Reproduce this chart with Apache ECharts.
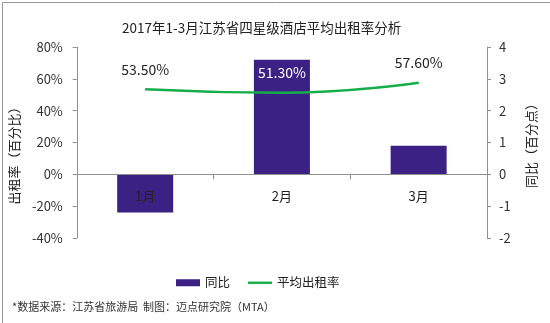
<!DOCTYPE html>
<html>
<head>
<meta charset="utf-8">
<script src="https://cdn.jsdelivr.net/npm/echarts@6/dist/echarts.min.js"></script>
<style>html,body{margin:0;padding:0;background:#fff}#c{width:550px;height:323px}</style>
</head>
<body>
<div id="c"></div>
<script>
const categories = ['1月', '2月', '3月'];
const yoyValues = [-1.2, 3.6, 0.9];          // 同比（百分点）
const occupancyValues = [53.5, 51.3, 57.6];  // 平均出租率（%）
const leftTicks = { min: -40, max: 80, interval: 20 };
const rightTicks = { min: -2, max: 4, interval: 1 };

const FONT = '"Noto Sans CJK SC", "Open Sans", sans-serif';
const GREEN = '#16AE4A';
const PURPLE = '#3B2184';
const AXIS_GRAY = '#8f8f8f';
const chart = echarts.init(document.getElementById('c'));
const axisCommon = {
  axisLine: { show: true, lineStyle: { color: AXIS_GRAY, width: 1 } },
  axisTick: { show: true, inside: false, length: 4, lineStyle: { color: AXIS_GRAY } },
  splitLine: { show: false }
};
const gridTop = 47, gridBottom = 85, plotH = 323 - gridTop - gridBottom;
const zeroOffset = -plotH * (0 - leftTicks.min) / (leftTicks.max - leftTicks.min);
chart.setOption({
  animation: false,
  textStyle: { fontFamily: FONT },
  title: {
    text: '2017年1-3月江苏省四星级酒店平均出租率分析',
    left: 117, top: 16,
    textStyle: { fontSize: 13.5, fontWeight: 'normal', color: '#222', fontFamily: FONT }
  },
  legend: {
    bottom: 29, left: 171, itemWidth: 24, itemHeight: 7, itemGap: 18,
    textStyle: { fontSize: 12.5, color: '#222', fontFamily: FONT },
    data: [
      { name: '同比', icon: 'rect', itemStyle: { color: PURPLE } },
      { name: '平均出租率', icon: 'path://M0,0H30V3H0Z', itemStyle: { color: GREEN } }
    ]
  },
  grid: { left: 67, right: 63, top: gridTop, bottom: gridBottom },
  xAxis: {
    type: 'category', data: categories, position: 'bottom', offset: zeroOffset, z: 5,
    axisLine: { onZero: false, lineStyle: { color: AXIS_GRAY } },
    axisTick: { show: true, length: 5, lineStyle: { color: AXIS_GRAY } },
    axisLabel: { margin: 15, fontSize: 13, color: '#222', fontFamily: FONT }
  },
  yAxis: [
    Object.assign({
      type: 'value', position: 'left', min: leftTicks.min, max: leftTicks.max, interval: leftTicks.interval,
      name: '出租率（百分比）', nameLocation: 'middle', nameGap: 50,
      nameTextStyle: { fontSize: 13, color: '#222', fontFamily: FONT, padding: [0, 0, 0, -20] },
      axisLabel: { formatter: '{value}%', margin: 14, fontSize: 13, color: '#333', fontFamily: FONT }
    }, axisCommon),
    Object.assign({
      type: 'value', position: 'right', min: rightTicks.min, max: rightTicks.max, interval: rightTicks.interval,
      name: '同比（百分点）', nameLocation: 'middle', nameGap: 38,
      nameTextStyle: { fontSize: 13, color: '#222', fontFamily: FONT },
      axisLabel: { margin: 12, fontSize: 13, color: '#333', fontFamily: FONT }
    }, axisCommon)
  ],
  series: [
    {
      name: '同比', type: 'bar', yAxisIndex: 1, barWidth: 56, z: 1,
      itemStyle: { color: PURPLE },
      data: yoyValues
    },
    {
      name: '平均出租率', type: 'line', yAxisIndex: 0, smooth: true,
      symbol: 'circle', symbolSize: 1, showSymbol: true, z: 3,
      lineStyle: { color: GREEN, width: 2.5 },
      itemStyle: { color: GREEN },
      label: {
        show: true, position: 'top', distance: 12, fontSize: 14, color: '#222', fontFamily: FONT,
        formatter: p => p.value.toFixed(2) + '%'
      },
      data: occupancyValues.map((v, i) => i === 1 ? { value: v, label: { color: '#fff' } } : v)
    }
  ],
  graphic: [
    { type: 'rect', left: 0, top: 0, z: -10, shape: { x: 0.5, y: 0.5, width: 548, height: 321 },
      style: { fill: 'none', stroke: '#999', lineWidth: 1 } },
    { type: 'text', left: 12, top: 301,
      style: { text: '*数据来源：江苏省旅游局  制图：迈点研究院（MTA）', fontSize: 11, fill: '#333', fontFamily: FONT } }
  ]
});
</script>
</body>
</html>
